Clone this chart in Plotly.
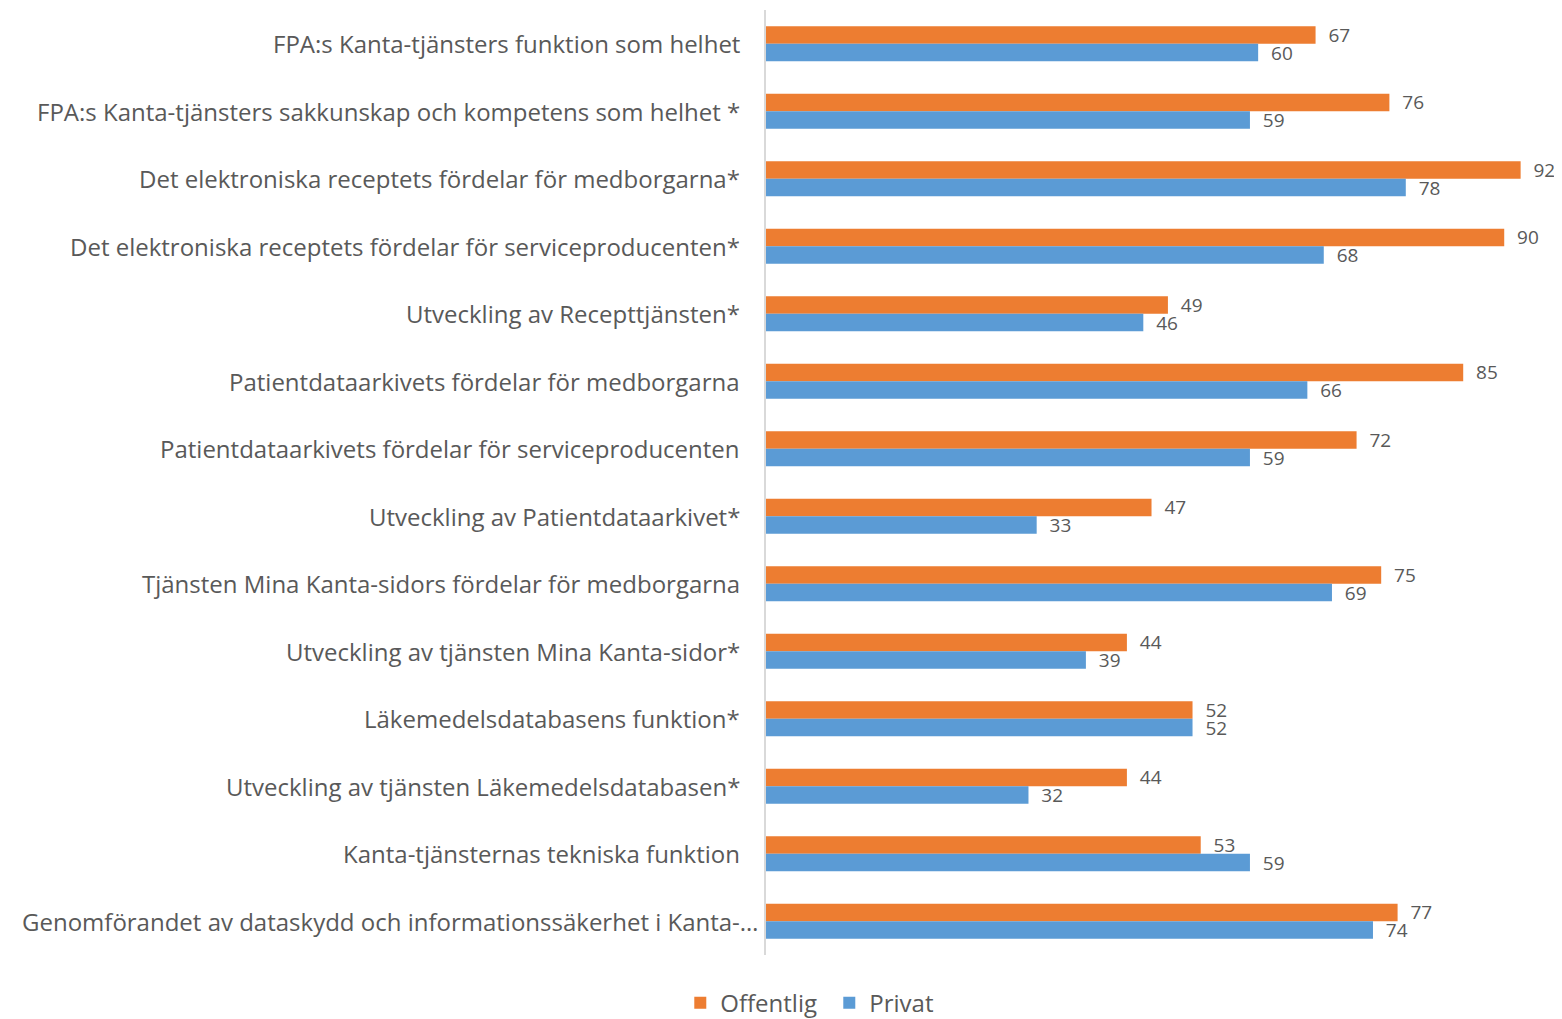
import plotly.graph_objects as go

categories = [
    "FPA:s Kanta-tjänsters funktion som helhet",
    "FPA:s Kanta-tjänsters sakkunskap och kompetens som helhet *",
    "Det elektroniska receptets fördelar för medborgarna*",
    "Det elektroniska receptets fördelar för serviceproducenten*",
    "Utveckling av Recepttjänsten*",
    "Patientdataarkivets fördelar för medborgarna",
    "Patientdataarkivets fördelar för serviceproducenten",
    "Utveckling av Patientdataarkivet*",
    "Tjänsten Mina Kanta-sidors fördelar för medborgarna",
    "Utveckling av tjänsten Mina Kanta-sidor*",
    "Läkemedelsdatabasens funktion*",
    "Utveckling av tjänsten Läkemedelsdatabasen*",
    "Kanta-tjänsternas tekniska funktion",
    "Genomförandet av dataskydd och informationssäkerhet i Kanta-…",
]
offentlig = [67, 76, 92, 90, 49, 85, 72, 47, 75, 44, 52, 44, 53, 77]
privat = [60, 59, 78, 68, 46, 66, 59, 33, 69, 39, 52, 32, 59, 74]

ORANGE = "#ED7D31"
BLUE = "#5B9BD5"
GRAY = "#595959"
FONT = "Open Sans"

fig = go.Figure()
for name, vals, col in [("Offentlig", offentlig, ORANGE), ("Privat", privat, BLUE)]:
    fig.add_trace(go.Bar(
        y=categories, x=vals, orientation="h", name=name,
        marker=dict(color=col, line=dict(width=0)),
        text=vals, texttemplate="  %{x}", textposition="outside",
        constraintext="none",
        textfont=dict(color=GRAY, size=19, family=FONT), cliponaxis=False,
    ))

annotations = []
for i, c in enumerate(categories):
    shift = -5 if i == len(categories) - 1 else -24
    annotations.append(dict(
        x=0, xref="paper", y=c, yref="y", text=c, showarrow=False,
        xanchor="right", yanchor="middle", xshift=shift,
        font=dict(family=FONT, size=24, color=GRAY),
    ))

fig.update_layout(
    width=1554, height=1011,
    margin=dict(l=758, r=2, t=2, b=64),
    paper_bgcolor="white", plot_bgcolor="white",
    barmode="group", bargap=0.48, bargroupgap=0,
    font=dict(family=FONT, color=GRAY),
    xaxis=dict(range=[0, 96.8], showgrid=False, showticklabels=False,
               zeroline=False, showline=False, fixedrange=True),
    yaxis=dict(autorange="reversed", showticklabels=False, showgrid=False,
               showline=True, linecolor="#D9D9D9", linewidth=2,
               zeroline=False, ticks=""),
    legend=dict(orientation="h", xref="container", yref="container",
                x=0.5285, y=0.0158, xanchor="center", yanchor="middle",
                font=dict(family=FONT, size=24, color=GRAY),
                itemwidth=30, tracegroupgap=0, entrywidth=104),
    annotations=annotations,
    showlegend=True,
)

fig.write_html("out.html")
